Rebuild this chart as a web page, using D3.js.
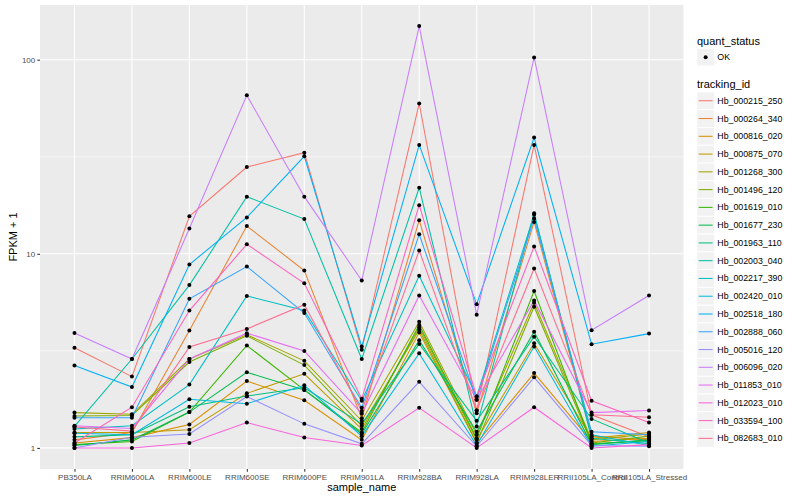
<!DOCTYPE html>
<html>
<head>
<meta charset="utf-8">
<script src="https://cdn.jsdelivr.net/npm/d3@7"></script>
<style>
  body { margin: 0; background: #fff; }
  text { font-family: "Liberation Sans", Arial, Helvetica, sans-serif; }
</style>
</head>
<body>
<svg id="chart" width="800" height="500"></svg>
<script>
// Samples along the x axis
const samples = ["PB350LA", "RRIM600LA", "RRIM600LE", "RRIM600SE", "RRIM600PE", "RRIM901LA",
  "RRIM928BA", "RRIM928LA", "RRIM928LER", "RRII105LA_Control", "RRII105LA_Stressed"];

// Gene ids (legend order)
const trackingIds = ["Hb_000215_250", "Hb_000264_340", "Hb_000816_020", "Hb_000875_070", "Hb_001268_300",
  "Hb_001496_120", "Hb_001619_010", "Hb_001677_230", "Hb_001963_110", "Hb_002003_040",
  "Hb_002217_390", "Hb_002420_010", "Hb_002518_180", "Hb_002888_060", "Hb_005016_120",
  "Hb_006096_020", "Hb_011853_010", "Hb_012023_010", "Hb_033594_100", "Hb_082683_010"];

// ggplot hue palette, 20 levels
const colors = ["#F8766D", "#EA8331", "#D89000", "#C09B00", "#A3A500", "#7CAE00", "#39B600", "#00BB4E",
  "#00BF7D", "#00C1A3", "#00BFC4", "#00BAE0", "#00B0F6", "#35A2FF", "#9590FF", "#C77CFF",
  "#E76BF3", "#FA62DB", "#FF62BC", "#FF6C91"];

// FPKM + 1, one row per tracking id, one value per sample
const fpkm = [
  [3.28, 2.33, 15.6, 28.0, 33.2, 3.20, 59.5, 1.56, 36.4, 1.48, 1.14],
  [1.10, 1.20, 4.03, 13.9, 8.2, 1.42, 14.9, 1.51, 14.6, 1.15, 1.10],
  [1.06, 1.13, 1.32, 2.21, 1.76, 1.10, 3.93, 1.06, 2.43, 1.08, 1.12],
  [1.20, 1.20, 1.24, 1.91, 2.41, 1.25, 4.18, 1.10, 3.46, 1.12, 1.20],
  [1.52, 1.49, 2.87, 3.83, 2.81, 1.38, 4.46, 1.17, 5.60, 1.10, 1.18],
  [1.46, 1.47, 2.77, 3.78, 2.67, 1.30, 4.06, 1.06, 5.34, 1.06, 1.15],
  [1.04, 1.08, 1.53, 3.37, 1.99, 1.20, 4.30, 1.12, 6.43, 1.05, 1.09],
  [1.03, 1.10, 1.53, 2.45, 1.99, 1.18, 3.59, 1.21, 3.97, 1.04, 1.10],
  [1.14, 1.17, 1.63, 1.85, 2.04, 1.33, 3.43, 1.38, 3.74, 1.41, 1.06],
  [1.29, 2.87, 6.90, 19.7, 15.1, 2.87, 21.9, 1.29, 16.2, 1.12, 1.05],
  [1.25, 1.30, 2.12, 6.07, 5.10, 1.75, 7.70, 1.84, 15.9, 1.17, 1.03],
  [1.19, 1.17, 1.78, 1.69, 2.10, 1.15, 3.07, 1.03, 3.33, 1.02, 1.08],
  [2.66, 2.06, 8.81, 15.4, 31.8, 3.33, 36.4, 5.50, 39.7, 3.42, 3.88],
  [1.43, 1.43, 5.86, 8.60, 4.95, 1.61, 12.6, 1.77, 15.2, 1.21, 1.17],
  [1.00, 1.135, 1.18, 1.84, 1.33, 1.05, 2.19, 1.02, 2.31, 1.03, 1.02],
  [3.91, 2.87, 13.5, 65.5, 19.7, 7.28, 149, 4.86, 102.8, 4.04, 6.10],
  [1.30, 1.26, 2.87, 3.90, 3.16, 1.50, 6.10, 1.77, 5.75, 1.52, 1.56],
  [1.00, 1.00, 1.06, 1.35, 1.13, 1.03, 1.61, 1.00, 1.62, 1.00, 1.04],
  [1.06, 1.62, 5.10, 11.2, 7.05, 1.79, 17.8, 1.84, 10.9, 1.75, 1.35],
  [1.28, 1.22, 3.31, 4.10, 5.47, 1.55, 10.4, 1.56, 8.40, 1.48, 1.44]
];

const yTicks = [1, 10, 100];
const yMinor = [Math.sqrt(10), Math.sqrt(1000)];

const svg = d3.select("#chart");
const panel = { left: 40, right: 683.5, top: 5, bottom: 469 };

// log scale with ggplot style 5% expansion (in log space)
const allVals = fpkm.flat();
const lo = Math.log10(d3.min(allVals)), hi = Math.log10(d3.max(allVals));
const pad = (hi - lo) * 0.05;
const y = d3.scaleLog()
  .domain([Math.pow(10, lo - pad), Math.pow(10, hi + pad)])
  .range([panel.bottom, panel.top]);

const x = d3.scalePoint()
  .domain(samples)
  .range([panel.left, panel.right])
  .padding(0.6);

// panel background
svg.append("rect")
  .attr("x", panel.left).attr("y", panel.top)
  .attr("width", panel.right - panel.left)
  .attr("height", panel.bottom - panel.top)
  .attr("fill", "#EBEBEB");

// grid
svg.selectAll("line.minor")
  .data(yMinor).enter().append("line")
  .attr("x1", panel.left).attr("x2", panel.right)
  .attr("y1", d => y(d)).attr("y2", d => y(d))
  .attr("stroke", "#fff").attr("stroke-width", 0.55);

svg.selectAll("line.hmajor")
  .data(yTicks).enter().append("line")
  .attr("x1", panel.left).attr("x2", panel.right)
  .attr("y1", d => y(d)).attr("y2", d => y(d))
  .attr("stroke", "#fff").attr("stroke-width", 1.1);

svg.selectAll("line.vmajor")
  .data(samples).enter().append("line")
  .attr("x1", d => x(d)).attr("x2", d => x(d))
  .attr("y1", panel.top).attr("y2", panel.bottom)
  .attr("stroke", "#fff").attr("stroke-width", 1.1);

// series lines
const line = d3.line()
  .x((d, i) => x(samples[i]))
  .y(d => y(d));

svg.append("g").selectAll("path")
  .data(fpkm).enter().append("path")
  .attr("d", line)
  .attr("fill", "none")
  .attr("stroke", (d, i) => colors[i])
  .attr("stroke-width", 1.05);

// points
const pts = [];
fpkm.forEach(row => row.forEach((v, i) => pts.push({ s: samples[i], v })));
svg.append("g").selectAll("circle")
  .data(pts).enter().append("circle")
  .attr("cx", d => x(d.s))
  .attr("cy", d => y(d.v))
  .attr("r", 2)
  .attr("fill", "#000");

// axes
const yAxis = svg.append("g")
  .attr("transform", `translate(${panel.left},0)`)
  .call(d3.axisLeft(y).tickValues(yTicks).tickFormat(d3.format("d")).tickSize(2.75).tickPadding(2));
const xAxis = svg.append("g")
  .attr("transform", `translate(0,${panel.bottom})`)
  .call(d3.axisBottom(x).tickSize(2.75).tickPadding(3));

[yAxis, xAxis].forEach(a => {
  a.select(".domain").remove();
  a.selectAll(".tick line").attr("stroke", "#333").attr("stroke-width", 1.05);
  a.selectAll(".tick text")
    .attr("fill", "#4D4D4D")
    .attr("font-size", "8px")
    .style("font-family", "'Liberation Sans', Arial, sans-serif");
});

// axis titles
svg.append("text")
  .attr("x", (panel.left + panel.right) / 2)
  .attr("y", 491)
  .attr("text-anchor", "middle")
  .attr("font-size", "11px")
  .attr("fill", "#000")
  .text("sample_name");

svg.append("text")
  .attr("transform", `translate(17,${(panel.top + panel.bottom) / 2}) rotate(-90)`)
  .attr("text-anchor", "middle")
  .attr("font-size", "11px")
  .attr("fill", "#000")
  .text("FPKM + 1");

// legends
const lgX = 697, keySize = 17.3;
const lg = svg.append("g");

lg.append("text")
  .attr("x", lgX).attr("y", 44.5)
  .attr("font-size", "11px")
  .text("quant_status");

lg.append("rect")
  .attr("x", lgX).attr("y", 48.5)
  .attr("width", keySize).attr("height", keySize)
  .attr("fill", "#F2F2F2").attr("stroke", "#fff").attr("stroke-width", 0.5);
lg.append("circle")
  .attr("cx", lgX + keySize / 2).attr("cy", 48.5 + keySize / 2)
  .attr("r", 2).attr("fill", "#000");
lg.append("text")
  .attr("x", lgX + keySize + 3).attr("y", 48.5 + keySize / 2 + 3)
  .attr("font-size", "8.8px")
  .text("OK");

lg.append("text")
  .attr("x", lgX).attr("y", 88)
  .attr("font-size", "11px")
  .text("tracking_id");

const keyTop = 92.1, keyStep = 17.77;
const keys = lg.selectAll("g.key")
  .data(trackingIds).enter().append("g")
  .attr("transform", (d, i) => `translate(${lgX},${keyTop + i * keyStep})`);

keys.append("rect")
  .attr("width", keySize).attr("height", keySize)
  .attr("fill", "#F2F2F2").attr("stroke", "#fff").attr("stroke-width", 0.5);
keys.append("line")
  .attr("x1", 1.7).attr("x2", keySize - 1.7)
  .attr("y1", keySize / 2).attr("y2", keySize / 2)
  .attr("stroke", (d, i) => colors[i])
  .attr("stroke-width", 1.05);
keys.append("text")
  .attr("x", keySize + 3).attr("y", keySize / 2 + 3)
  .attr("font-size", "8.8px")
  .text(d => d);
</script>
</body>
</html>
